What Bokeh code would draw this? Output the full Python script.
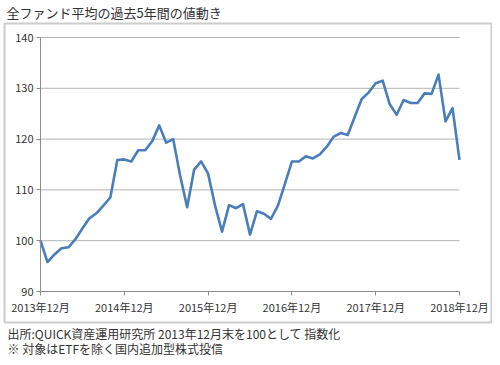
from bokeh.plotting import figure
from bokeh.models import Range1d, FixedTicker, Title
from bokeh.embed import file_html
from bokeh.resources import INLINE

# monthly index, 2013年12月 (=100) .. 2018年12月
months = list(range(61))
values = [100.0, 95.8, 97.3, 98.5, 98.7, 100.3, 102.4, 104.4, 105.4, 106.9,
          108.5, 115.9, 116.0, 115.6, 117.8, 117.8, 119.6, 122.7, 119.3, 120.0,
          112.8, 106.6, 114.0, 115.6, 113.2, 106.9, 101.8, 107.0, 106.4, 107.2,
          101.2, 105.8, 105.3, 104.3, 106.9, 111.2, 115.6, 115.6, 116.6, 116.2,
          117.0, 118.5, 120.5, 121.2, 120.8, 124.4, 127.9, 129.2, 131.0, 131.5,
          126.9, 124.8, 127.7, 127.1, 127.1, 129.0, 128.9, 132.7, 123.5, 126.1,
          115.9]
x_ticks = [0, 12, 24, 36, 48, 60]
x_tick_labels = ["2013年12月", "2014年12月", "2015年12月", "2016年12月", "2017年12月", "2018年12月"]
y_ticks = [90, 100, 110, 120, 130, 140]

title_text = "全ファンド平均の過去5年間の値動き"
notes = ["出所:QUICK資産運用研究所  2013年12月末を100として 指数化",
         "※ 対象はETFを除く国内追加型株式投信"]

FONT = "Noto Sans CJK JP"

# ---- layout geometry (pixels) ----
W, H = 492, 357
BOX_L, BOX_R, BOX_T, BOX_B = 4, 491, 23, 322       # grey chart box (= plot frame)
PA_L, PA_R, PA_T, PA_B = 40, 459, 37, 291          # inner plotting area
x_lo, x_hi = x_ticks[0], x_ticks[-1]
y_lo, y_hi = y_ticks[0], y_ticks[-1]
ppx = (PA_R - PA_L) / (x_hi - x_lo)
ppy = (PA_B - PA_T) / (y_hi - y_lo)
x_range = Range1d(x_lo - (PA_L - BOX_L) / ppx, x_hi + (BOX_R - PA_R) / ppx)
y_range = Range1d(y_lo - (BOX_B - PA_B) / ppy, y_hi + (PA_T - BOX_T) / ppy)

p = figure(width=W, height=H, output_backend="svg", toolbar_location=None,
           x_range=x_range, y_range=y_range,
           min_border_left=BOX_L, min_border_right=W - BOX_R,
           min_border_top=BOX_T, min_border_bottom=H - BOX_B,
           title=title_text)
p.outline_line_color = "#cccccc"
p.outline_line_width = 2
p.xgrid.visible = False
p.ygrid.visible = False

# title
p.title.text_font = FONT
p.title.text_font_size = "13px"
p.title.text_font_style = "normal"
p.title.text_color = "#333333"
p.title.align = "left"
p.title.vertical_align = "top"
p.title.offset = 2
p.title.standoff = 0

# horizontal gridlines across the plotting area
grid_y = y_ticks[1:]
p.segment(x0=[x_lo] * len(grid_y), x1=[x_hi] * len(grid_y), y0=grid_y, y1=grid_y,
          line_color="#b4b4b4", line_width=1)

p.line(months, values, line_color="#4a7ebb", line_width=2.6, line_join="round")

# axes drawn inside the frame
p.xaxis.fixed_location = y_lo
p.xaxis.bounds = (x_lo, x_hi)
p.yaxis.fixed_location = x_lo
p.yaxis.bounds = (y_lo, y_hi)
p.xaxis.ticker = FixedTicker(ticks=x_ticks)
p.xaxis.major_label_overrides = {t: l for t, l in zip(x_ticks, x_tick_labels)}
p.yaxis.ticker = FixedTicker(ticks=y_ticks)
for ax in (p.xaxis, p.yaxis):
    ax.axis_line_color = "#8c8c8c"
    ax.major_tick_line_color = "#8c8c8c"
    ax.major_tick_out = 4
    ax.major_tick_in = 0
    ax.minor_tick_line_color = None
    ax.major_label_standoff = 3
    ax.major_label_text_font = FONT
    ax.major_label_text_font_size = "11px"
    ax.major_label_text_color = "#333333"

# footnotes below the box
p.add_layout(Title(text="\n".join(notes), align="left", offset=3, standoff=0,
                   text_font=FONT, text_font_size="12px", text_font_style="normal",
                   text_line_height=0.92, text_color="#333333"), "below")

open("out.html", "w").write(file_html(p, INLINE))
